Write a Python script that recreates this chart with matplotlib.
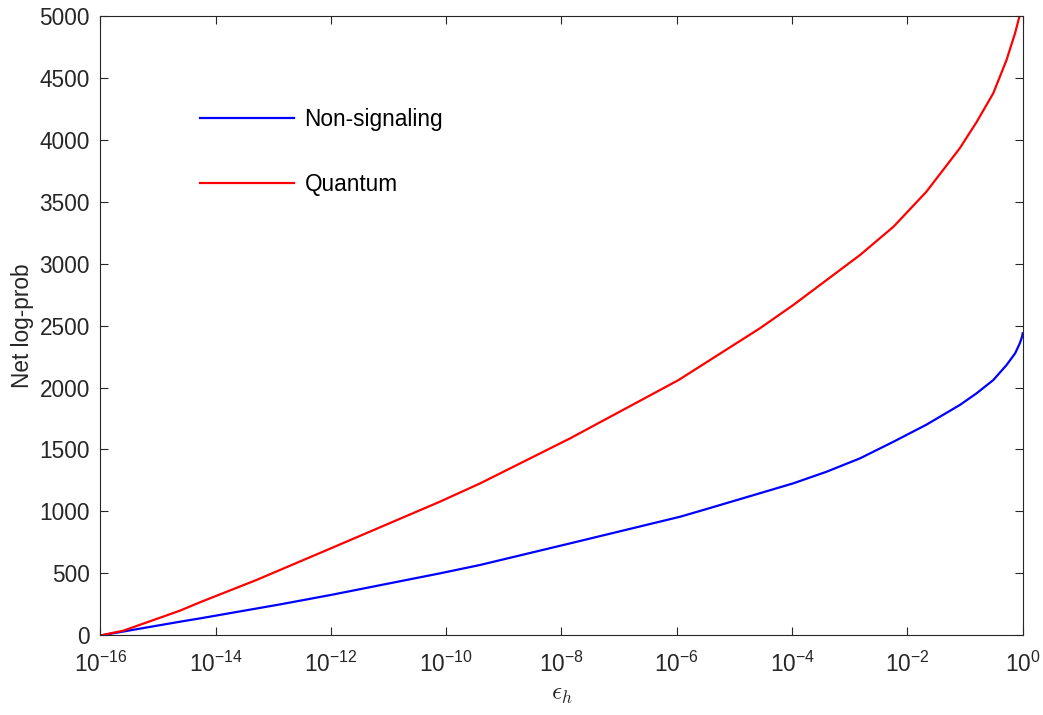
import numpy as np
import matplotlib
matplotlib.use("Agg")
import matplotlib.pyplot as plt
from matplotlib.ticker import FixedLocator, FuncFormatter, NullLocator

plt.rcParams['font.family'] = ['Liberation Sans', 'DejaVu Sans']
plt.rcParams['axes.unicode_minus'] = False

# log10(epsilon_h) and net log-prob values
ns_logeps = [-16.0, -14.62, -14.27, -12.88, -12.0, -10.11, -9.41, -7.85, -5.94, -5.6,
             -4.56, -3.98, -3.40, -2.82, -2.24, -1.67, -1.09, -0.80, -0.51, -0.28,
             -0.13, -0.05, -0.01, 0.0]
ns_vals = [0, 111, 138, 251, 327, 501, 569, 743, 958, 1004,
           1147, 1227, 1321, 1429, 1563, 1700, 1859, 1953, 2060, 2181,
           2276, 2356, 2410, 2437]

q_logeps = [-16.0, -15.6, -14.62, -14.27, -13.29, -12.0, -10.11, -9.41, -7.85, -5.97,
            -4.56, -3.98, -3.40, -2.82, -2.24, -1.67, -1.09, -0.80, -0.51, -0.28,
            -0.13, -0.05, 0.0]
q_vals = [0, 39, 200, 268, 448, 703, 1079, 1227, 1590, 2060,
          2477, 2665, 2867, 3069, 3297, 3579, 3930, 4140, 4373, 4641,
          4860, 5004, 5300]

labels = ['Non-signaling', 'Quantum']
xtick_exps = [-16, -14, -12, -10, -8, -6, -4, -2, 0]
yticks = [0, 500, 1000, 1500, 2000, 2500, 3000, 3500, 4000, 4500, 5000]

txt_col = (0.15, 0.15, 0.15)
fs = 16.3

fig = plt.figure(figsize=(10.43, 7.15), dpi=100)
ax = fig.add_axes([0.0962, 0.1112, 0.8843, 0.8671])

ax.plot(10.0 ** np.array(ns_logeps), ns_vals, color=(0, 0, 1), lw=1.6, label=labels[0])
ax.plot(10.0 ** np.array(q_logeps), q_vals, color=(1, 0, 0), lw=1.6, label=labels[1])

ax.set_xscale('log')
ax.set_xlim(1e-16, 1)
ax.set_ylim(0, 5000)
ax.xaxis.set_major_locator(FixedLocator([10.0 ** e for e in xtick_exps]))
ax.xaxis.set_minor_locator(NullLocator())
ax.xaxis.set_major_formatter(
    FuncFormatter(lambda v, p: r'$\mathregular{10^{%d}}$' % int(round(np.log10(v)))))
ax.set_yticks(yticks)

for s in ax.spines.values():
    s.set_color(txt_col)
    s.set_linewidth(0.8)
ax.tick_params(direction='in', length=6, width=0.8, color=txt_col, top=True, right=True,
               labelsize=fs, labelcolor=txt_col)
ax.tick_params(axis='y', pad=7.5)
ax.tick_params(axis='x', pad=12)

ax.set_ylabel('Net log-prob', fontsize=fs, color=txt_col, labelpad=4)
ax.set_xlabel(r'$\epsilon_h$', fontsize=18, math_fontfamily='cm', color=txt_col, labelpad=3)

leg = ax.legend(loc='upper left', bbox_to_anchor=(0.0985, 0.866), frameon=False, fontsize=fs,
                handlelength=4.15, handletextpad=0.45, labelspacing=1.85, borderaxespad=0)

fig.savefig('out.png', dpi=100)
